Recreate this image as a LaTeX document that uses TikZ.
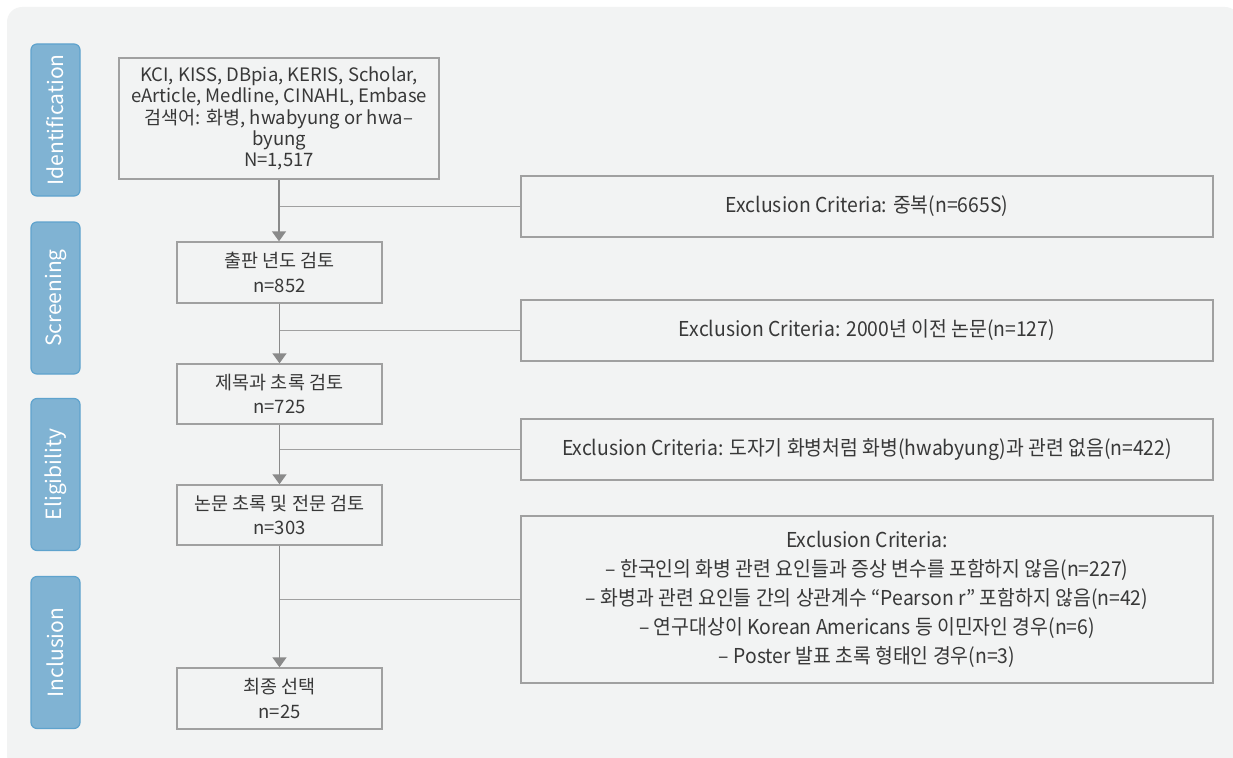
\documentclass[tikz,border=0pt]{standalone}
\usepackage{fontspec}
\setmainfont{Noto Sans CJK KR}
\newfontfamily\condfont[FakeStretch=0.945]{Noto Sans CJK KR}
\usetikzlibrary{arrows.meta}
\definecolor{bgc}{HTML}{F2F3F3}
\definecolor{stagefill}{HTML}{80B3D3}
\definecolor{stageline}{HTML}{5FA3CD}
\definecolor{boxline}{HTML}{A0A0A0}
\definecolor{arrc}{HTML}{8A8A8A}
\definecolor{txt}{HTML}{383838}
\tikzset{
  stagebox/.style={draw=stageline, line width=1.2pt, fill=stagefill, rounded corners=6pt,
    minimum width=152pt, minimum height=49pt, inner sep=0pt, text=white,
    font=\fontsize{21}{22}\selectfont, rotate=90},
  mainbox/.style={draw=boxline, line width=1.4pt, fill=bgc, inner sep=0pt, align=center,
    text=txt, font=\fontsize{18.5}{21.3}\selectfont},
  smallbox/.style={mainbox, minimum width=205pt, font=\fontsize{18.5}{24.5}\selectfont},
  exbox/.style={draw=boxline, line width=1.4pt, fill=bgc, inner sep=0pt, align=center,
    text=txt, minimum width=692pt, font=\condfont\fontsize{20.5}{29}\selectfont},
  arr/.style={draw=arrc, line width=1.5pt, -{Triangle[length=10pt,width=14pt]}},
  branch/.style={draw=boxline, line width=1.3pt}
}
\begin{document}
\begin{tikzpicture}[x=1pt,y=-1pt]
\useasboundingbox (0,0) rectangle (1233,757);
\begin{scope}
\clip (0,0) rectangle (1233,757);
\fill[bgc, rounded corners=15pt] (7,7) rectangle (1240,770);
\end{scope}
% stage labels
\node[stagebox] (s1) at (55.5,120) {Identification};
\node[stagebox] (s2) at (55.5,298) {Screening};
\node[stagebox] (s3) at (55.5,474.5) {Eligibility};
\node[stagebox] (s4) at (55.5,652.5) {Inclusion};
% main boxes
\node[mainbox, minimum width=320pt, minimum height=121pt] (b1) at (279,118.5)
  {KCI, KISS, DBpia, KERIS, Scholar,\\eArticle, Medline, CINAHL, Embase\\검색어: 화병, hwabyung or hwa–\\byung\\N=1,517};
\node[smallbox, minimum height=61pt] (b2) at (279.5,272.5) {출판 년도 검토\\n=852};
\node[smallbox, minimum height=60pt] (b3) at (279.5,394) {제목과 초록 검토\\n=725};
\node[smallbox, minimum height=60pt] (b4) at (279.5,515) {논문 초록 및 전문 검토\\n=303};
\node[smallbox, minimum height=61pt] (b5) at (279.5,698.5) {최종 선택\\n=25};
% exclusion boxes
\node[exbox, minimum height=61pt] (e1) at (867,206.5) {Exclusion Criteria: 중복(n=665S)};
\node[exbox, minimum height=61pt] (e2) at (867,330.5) {Exclusion Criteria: 2000년 이전 논문(n=127)};
\node[exbox, minimum height=61pt] (e3) at (867,449.5) {Exclusion Criteria: 도자기 화병처럼 화병(hwabyung)과 관련 없음(n=422)};
\node[exbox, minimum height=167pt] (e4) at (867,599.5) {Exclusion Criteria:\\– 한국인의 화병 관련 요인들과 증상 변수를 포함하지 않음(n=227)\\– 화병과 관련 요인들 간의 상관계수 “Pearson r” 포함하지 않음(n=42)\\– 연구대상이 Korean Americans 등 이민자인 경우(n=6)\\– Poster 발표 초록 형태인 경우(n=3)};
% branches
\draw[branch] (b1.south |- e1.west) -- (e1.west);
\draw[branch] (b1.south |- e2.west) -- (e2.west);
\draw[branch] (b1.south |- e3.west) -- (e3.west);
\draw[branch] (b1.south |- e4.west) -- (e4.west);
% arrows
\draw[arr] (b1.south) -- (b1.south |- b2.north);
\draw[arr] (b2.south) -- (b2.north |- b3.north);
\draw[arr] (b3.south) -- (b3.north |- b4.north);
\draw[arr] (b4.south) -- (b4.north |- b5.north);
\end{tikzpicture}
\end{document}
